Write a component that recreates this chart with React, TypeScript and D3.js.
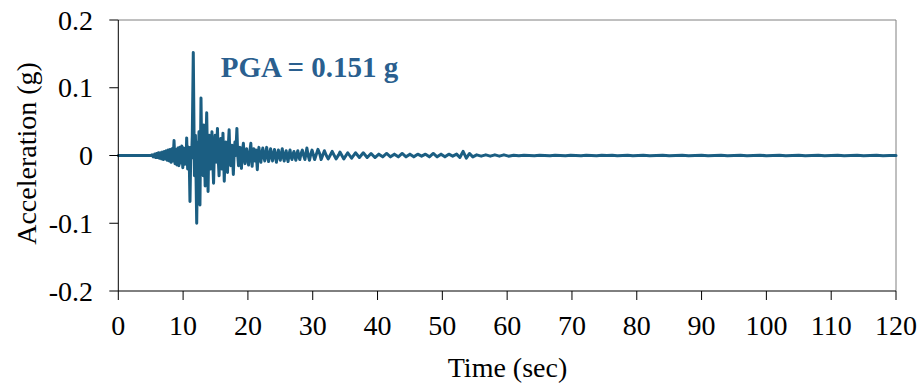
import React from "react";
import * as d3 from "d3";

// ---- data ----
const X_TICKS = [0, 10, 20, 30, 40, 50, 60, 70, 80, 90, 100, 110, 120];
const Y_TICKS = [0.2, 0.1, 0, -0.1, -0.2];
const Y_TICK_LABELS = ["0.2", "0.1", "0", "-0.1", "-0.2"];
const X_LABEL = "Time (sec)";
const Y_LABEL = "Acceleration (g)";
const ANNOTATION = "PGA = 0.151 g";

// [time (s), acceleration (g)]
const PRE_EVENT: [number, number][] = [
  [0, 0], [5.0, 0],
];

const ONSET: [number, number][] = [
  [5.2, 0.001], [5.4, -0.002], [5.6, 0.002], [5.75, -0.003], [5.9, 0.003],
  [6.05, -0.003], [6.2, 0.004], [6.35, -0.004], [6.5, 0.004], [6.65, -0.005],
  [6.8, 0.005], [6.95, -0.006], [7.1, 0.006], [7.25, -0.005], [7.4, 0.007],
  [7.55, -0.007], [7.7, 0.008], [7.85, -0.008], [8.0, 0.009], [8.15, -0.01],
  [8.3, 0.01], [8.45, -0.008], [8.6, 0.022], [8.75, -0.012], [8.9, 0.009],
  [9.05, -0.014], [9.2, 0.011], [9.35, -0.015], [9.5, 0.012], [9.65, -0.011],
  [9.8, 0.014], [9.95, -0.018], [10.1, 0.011], [10.25, -0.013], [10.4, 0.009],
  [10.47, -0.005], [10.55, 0.026], [10.7, -0.02], [10.85, 0.012], [10.95, -0.01],
];

const STRONG_MOTION: [number, number][] = [
  [11.06, -0.068], [11.2, 0.012], [11.3, -0.004], [11.42, 0.03], [11.57, 0.152],
  [11.75, -0.03], [11.9, 0.03], [12.1, -0.1], [12.25, 0.02], [12.35, -0.01],
  [12.45, 0.035], [12.6, -0.073], [12.76, 0.085], [12.9, -0.02], [13.0, 0.01],
  [13.1, -0.03], [13.2, 0.045], [13.4, -0.045], [13.52, 0.015], [13.64, 0.063],
  [13.85, -0.053], [13.95, 0.01], [14.05, 0.03], [14.15, -0.005], [14.25, -0.02],
  [14.35, 0.01], [14.45, 0.035], [14.58, -0.01], [14.7, -0.041], [14.82, 0.005],
  [14.95, 0.03], [15.1, -0.01], [15.2, 0.015], [15.3, 0.04], [15.42, -0.005],
  [15.55, -0.03], [15.68, 0.01], [15.8, 0.025], [15.9, -0.005], [16.0, -0.02],
  [16.15, 0.033], [16.35, -0.038], [16.48, 0.005], [16.6, 0.02], [16.72, -0.005],
  [16.85, -0.025], [16.98, 0.015], [17.1, 0.038], [17.22, 0.0], [17.35, -0.015],
  [17.55, 0.015], [17.75, -0.028], [17.88, 0.005], [18.0, 0.02], [18.12, 0.0],
  [18.3, 0.04], [18.42, 0.002], [18.55, -0.015], [18.68, 0.004], [18.8, 0.012],
  [18.9, -0.004], [19.0, -0.019], [19.15, 0.006], [19.3, 0.018], [19.42, -0.002],
  [19.55, -0.012], [19.68, 0.004], [19.8, 0.01], [19.95, -0.004], [20.1, -0.014],
  [20.3, 0.006], [20.45, 0.018], [20.55, 0.0], [20.65, -0.016], [20.78, 0.004],
  [20.9, 0.01], [21.0, -0.002], [21.1, -0.008], [21.25, 0.008], [21.45, -0.021],
  [21.58, 0.003], [21.7, 0.012], [21.85, -0.002], [22.0, -0.01], [22.15, 0.004],
  [22.3, 0.011], [22.45, -0.002], [22.6, -0.008], [22.75, 0.004], [22.9, 0.012],
  [23.05, -0.002], [23.2, -0.009], [23.35, 0.003], [23.5, 0.01], [23.65, -0.002],
  [23.8, -0.008], [23.95, 0.003], [24.1, 0.009], [24.25, -0.002], [24.4, -0.01],
  [24.55, 0.002], [24.7, 0.008], [24.85, -0.002], [25.0, -0.007], [25.15, 0.003],
  [25.3, 0.01], [25.45, -0.002], [25.6, -0.008], [25.75, 0.002], [25.9, 0.007],
  [26.05, -0.003], [26.2, -0.009], [26.35, 0.002], [26.5, 0.008], [26.65, -0.002],
  [26.8, -0.006], [26.95, 0.002], [27.1, 0.006], [27.25, -0.002], [27.4, -0.007],
  [27.55, 0.002], [27.7, 0.007], [27.85, -0.002], [28.0, -0.006], [28.2, 0.003],
  [28.4, 0.008], [28.6, 0.0], [28.8, -0.006], [29.1, 0.011], [29.3, 0.0],
  [29.5, -0.007], [29.7, 0.002], [29.9, 0.008],
];

const CODA: [number, number][] = [
  [30.3, -0.006], [30.8, 0.009], [31.1, 0.002], [31.3, -0.006], [31.8, 0.007],
  [32.1, 0.0], [32.4, -0.005], [33.0, 0.006], [33.6, -0.005], [34.0, 0.001],
  [34.2, 0.005], [34.8, -0.005], [35.4, 0.004], [35.7, 0.0], [36.0, -0.004],
  [36.6, 0.004], [37.2, -0.003], [37.8, 0.004], [38.4, -0.003], [39.0, 0.003],
  [39.6, -0.003], [40.2, 0.002], [40.8, -0.002], [41.4, 0.003], [42.0, -0.002],
  [42.6, 0.002], [43.2, -0.002], [43.8, 0.003], [44.4, -0.002], [45.0, 0.002],
  [45.6, -0.002], [46.2, 0.002], [46.8, -0.001], [47.4, 0.002], [48.0, -0.002],
  [48.6, 0.003], [49.2, -0.002], [49.8, 0.002], [50.4, -0.002], [51.0, 0.002],
  [51.6, -0.001], [52.2, 0.002], [52.7, -0.003], [53.2, 0.006], [53.7, -0.004],
  [54.2, 0.003], [54.7, -0.002], [55.3, 0.001], [56.0, -0.001], [56.7, 0.001],
  [57.4, -0.001], [58.1, 0.001], [58.8, -0.001], [59.5, 0.001], [60.2, -0.001],
  [61.0, 0.0005], [61.8, -0.0005], [62.6, 0.0005], [63.4, 0.0], [64.2, -0.0005],
  [65.0, 0.0005], [65.8, 0.0], [66.6, -0.0005], [67.4, 0.0005], [68.2, 0.0],
  [69.0, -0.0005], [69.8, 0.0005], [70.6, 0.0], [71.4, -0.0005], [72.2, 0.0005],
  [73.0, 0.0], [73.8, -0.0005], [74.6, 0.0005], [75.4, 0.0], [76.2, 0.0005],
  [77.0, -0.0005], [77.8, 0.0], [78.6, 0.0005], [79.4, -0.0005], [80.2, 0.0],
  [81.0, 0.0005], [82.0, -0.0005], [83.0, 0.0], [84.0, 0.0005], [85.0, -0.0005],
  [86.0, 0.0], [87.0, 0.0005], [88.0, -0.0005], [89.0, 0.0], [90.0, 0.0005],
  [91.0, -0.0005], [92.0, 0.0], [93.0, 0.0005], [94.0, -0.0005], [95.0, 0.0],
  [96.0, 0.0005], [97.0, -0.0005], [98.0, 0.0], [99.0, 0.0005], [100.0, -0.0005],
  [101.0, 0.0], [102.0, 0.0005], [103.0, -0.0005], [104.0, 0.0], [105.0, 0.0005],
  [106.0, -0.0005], [107.0, 0.0], [108.0, 0.0005], [109.0, -0.0005], [110.0, 0.0],
  [111.0, 0.0005], [112.0, -0.0005], [113.0, 0.0], [114.0, 0.0005], [115.0, -0.0005],
  [116.0, 0.0], [117.0, 0.0005], [118.0, -0.0005], [119.0, 0.0], [120.0, 0.0],
];

const RECORD: [number, number][] = [...PRE_EVENT, ...ONSET, ...STRONG_MOTION, ...CODA];

// ---- layout ----
const W = 922;
const H = 388;
const M = { left: 118.3, right: 896, top: 20, bottom: 291 };
const FONT = "'Liberation Serif', 'Times New Roman', serif";
const LINE_COLOR = "#1b5e82";
const ANNO_COLOR = "#2a5f8f";

export default function App() {
  const x = d3.scaleLinear().domain([0, 120]).range([M.left, M.right]);
  const y = d3.scaleLinear().domain([-0.2, 0.2]).range([M.bottom, M.top]);
  const line = d3
    .line<[number, number]>()
    .x((d) => x(d[0]))
    .y((d) => y(d[1]));

  return (
    <svg
      width={W}
      height={H}
      viewBox={`0 0 ${W} ${H}`}
      style={{ position: "absolute", left: 0, top: 0, background: "#fff" }}
      fontFamily={FONT}
    >
      <rect x={0} y={0} width={W} height={H} fill="#fff" />
      {/* frame: top and right gray */}
      <line x1={M.left} x2={M.right} y1={M.top} y2={M.top} stroke="#808080" strokeWidth={1} />
      <line x1={M.right} x2={M.right} y1={M.top} y2={M.bottom} stroke="#808080" strokeWidth={1} />

      {/* series */}
      <path
        d={line(RECORD) || ""}
        fill="none"
        stroke={LINE_COLOR}
        strokeWidth={3}
        strokeLinejoin="round"
        strokeLinecap="round"
      />

      {/* axes */}
      <line x1={M.left} x2={M.left} y1={M.top} y2={M.bottom} stroke="#000" strokeWidth={1} />
      <line x1={M.left} x2={M.right} y1={M.bottom} y2={M.bottom} stroke="#000" strokeWidth={1} />

      {Y_TICKS.map((v, i) => (
        <g key={"y" + i}>
          <line x1={M.left - 9} x2={M.left} y1={y(v)} y2={y(v)} stroke="#000" strokeWidth={1} />
          <text x={93} y={y(v) + 9.5} textAnchor="end" fontSize={28} fill="#000">
            {Y_TICK_LABELS[i]}
          </text>
        </g>
      ))}

      {X_TICKS.map((v) => (
        <g key={"x" + v}>
          <line x1={x(v)} x2={x(v)} y1={M.bottom} y2={M.bottom + 9} stroke="#000" strokeWidth={1} />
          <text x={x(v)} y={335} textAnchor="middle" fontSize={28} fill="#000">
            {v}
          </text>
        </g>
      ))}

      <text x={507.5} y={377.3} textAnchor="middle" fontSize={28} fill="#000">
        {X_LABEL}
      </text>
      <text
        transform={`translate(35.5, 153.5) rotate(-90)`}
        textAnchor="middle"
        fontSize={28}
        fill="#000"
      >
        {Y_LABEL}
      </text>

      <text x={220.7} y={76.7} fontSize={29} fontWeight="bold" fill={ANNO_COLOR}>
        {ANNOTATION}
      </text>
    </svg>
  );
}
